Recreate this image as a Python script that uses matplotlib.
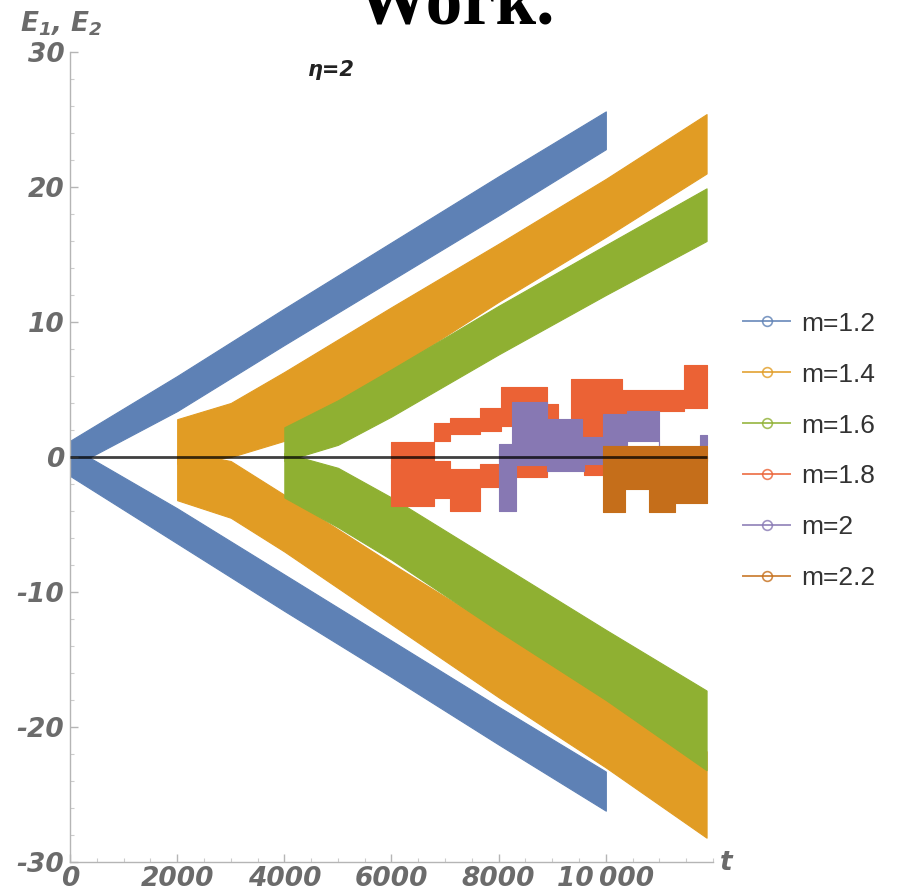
import matplotlib
matplotlib.use("Agg")
import matplotlib.pyplot as plt
from matplotlib.lines import Line2D
from matplotlib.ticker import MultipleLocator

plt.rcParams["mathtext.fontset"] = "custom"
plt.rcParams["mathtext.it"] = "DejaVu Sans:bold:italic"
plt.rcParams["mathtext.rm"] = "DejaVu Sans:bold:italic"
plt.rcParams["mathtext.bf"] = "DejaVu Sans:bold:italic"

# ---------------- data ----------------
labels = ["m=1.2", "m=1.4", "m=1.6", "m=1.8", "m=2", "m=2.2"]
colors = ["#5E81B5", "#E19C24", "#8FB032", "#EB6235", "#8778B3", "#C56E1A"]

# linear-looking bands: edges at sample times (E1 = upper branch, E2 = lower branch)
blue_t = [0, 2000, 4000, 6000, 8000, 10000]
blue_e1_lo = [-0.8, 3.4, 8.3, 13.1, 17.9, 22.8]
blue_e1_hi = [1.2, 6.0, 11.0, 15.9, 20.8, 25.6]
blue_e2_hi = [0.8, -3.8, -8.7, -13.6, -18.5, -23.3]
blue_e2_lo = [-1.4, -6.4, -11.4, -16.3, -21.3, -26.2]

orange_t = [2000, 3000, 4000, 6000, 8000, 10000, 11880]
orange_e1_lo = [-0.5, 0.0, 1.2, 6.4, 11.5, 16.3, 21.0]
orange_e1_hi = [2.8, 4.0, 6.3, 11.1, 15.8, 20.6, 25.4]
orange_e2_hi = [0.5, -0.3, -2.8, -7.9, -12.8, -17.4, -21.8]
orange_e2_lo = [-3.2, -4.5, -7.0, -12.4, -17.8, -23.0, -28.2]

green_t = [4000, 5000, 6000, 8000, 10000, 11880]
green_e1_lo = [-0.3, 0.9, 3.0, 7.6, 12.0, 16.0]
green_e1_hi = [2.2, 4.2, 6.5, 11.2, 15.7, 19.9]
green_e2_hi = [0.3, -0.8, -3.0, -7.9, -12.8, -17.3]
green_e2_lo = [-3.0, -5.2, -7.6, -12.9, -18.0, -23.2]

# irregular step bands (post steps)
red_e1_t = [6000, 6800, 7100, 7650, 8050, 8900, 9100, 9350, 10300, 10850, 11450, 11880]
red_e1_lo = [-0.9, 1.2, 1.7, 1.9, 2.3, 1.5, 0.8, 0.8, 2.5, 3.4, 3.6]
red_e1_hi = [1.1, 2.5, 2.9, 3.6, 5.2, 3.9, 2.5, 5.8, 5.0, 5.0, 6.8]
red_e2_t = [6000, 6800, 7100, 7650, 8050, 8900, 9600, 10000]
red_e2_lo = [-3.6, -3.0, -4.0, -2.2, -1.5, -0.8, -1.3]
red_e2_hi = [-0.5, -0.3, -0.9, -0.5, 0.3, 1.5, 0.7]

purple_e1_t = [8000, 8250, 8900, 9550, 9950, 10400, 11000, 11750, 11880]
purple_e1_lo = [-0.3, 0.0, 0.4, 0.3, 0.9, 1.2, 0.0, 0.9]
purple_e1_hi = [1.0, 4.1, 2.8, 1.5, 3.2, 3.4, 0.6, 1.6]
purple_e2_t = [8000, 8330, 8900, 9600, 9950]
purple_e2_lo = [-4.0, -0.6, -1.0, -0.5]
purple_e2_hi = [0.5, 0.3, 0.6, 0.4]

brown_e1_t = [9950, 11880]
brown_e1_lo = [-0.3]
brown_e1_hi = [0.8]
brown_e2_t = [9950, 10350, 10800, 11300, 11880]
brown_e2_lo = [-4.1, -2.4, -4.1, -3.4]
brown_e2_hi = [0.0, 0.0, 0.0, 0.0]

t_end = 11880
x_ticks = [0, 2000, 4000, 6000, 8000, 10000]
x_ticklabels = ["0", "2000", "4000", "6000", "8000", "10\u2009000"]
y_ticks = [-30, -20, -10, 0, 10, 20, 30]
y_ticklabels = ["-30", "-20", "-10", "0", "10", "20", "30"]

# ---------------- figure ----------------
W, H = 915, 894
fig = plt.figure(figsize=(W / 100, H / 100), dpi=100)
ax = fig.add_axes([70 / W, 1 - 862 / H, (713 - 70) / W, (862 - 52) / H])
ax.set_xlim(0, 12000)
ax.set_ylim(-30, 30)


def lin_band(t, lo, hi, c):
    ax.fill_between(t, lo, hi, color=c, linewidth=0.8, edgecolor=c)


def step_band(t, lo, hi, c):
    ax.fill_between(t, lo + [lo[-1]], hi + [hi[-1]], step="post", color=c,
                    linewidth=0.8, edgecolor=c)


lin_band(blue_t, blue_e1_lo, blue_e1_hi, colors[0])
lin_band(blue_t, blue_e2_lo, blue_e2_hi, colors[0])
lin_band(orange_t, orange_e1_lo, orange_e1_hi, colors[1])
lin_band(orange_t, orange_e2_lo, orange_e2_hi, colors[1])
lin_band(green_t, green_e1_lo, green_e1_hi, colors[2])
lin_band(green_t, green_e2_lo, green_e2_hi, colors[2])
step_band(red_e1_t, red_e1_lo, red_e1_hi, colors[3])
step_band(red_e2_t, red_e2_lo, red_e2_hi, colors[3])
step_band(purple_e1_t, purple_e1_lo, purple_e1_hi, colors[4])
step_band(purple_e2_t, purple_e2_lo, purple_e2_hi, colors[4])
step_band(brown_e1_t, brown_e1_lo, brown_e1_hi, colors[5])
step_band(brown_e2_t, brown_e2_lo, brown_e2_hi, colors[5])

ax.hlines(0, 0, t_end, color="black", alpha=0.75, linewidth=2, zorder=5)

# axes styling (Mathematica-like)
for s in ["top", "right"]:
    ax.spines[s].set_visible(False)
for s in ["left", "bottom"]:
    ax.spines[s].set_color("#b5b5b5")
    ax.spines[s].set_linewidth(1.0)

tick_font = dict(fontsize=19, fontweight="bold", fontstyle="italic", color="#6b6b6b",
                 family="DejaVu Sans")
ax.set_xticks(x_ticks)
ax.set_xticklabels(x_ticklabels, **tick_font)
ax.set_yticks(y_ticks)
ax.set_yticklabels(y_ticklabels, **tick_font)
ax.xaxis.set_minor_locator(MultipleLocator(500))
ax.yaxis.set_minor_locator(MultipleLocator(2))
ax.tick_params(axis="both", which="major", direction="in", length=6, width=1,
               color="#b5b5b5", pad=3)
ax.tick_params(axis="both", which="minor", direction="in", length=3, width=0.8,
               color="#cccccc")
ax.tick_params(axis="y", which="major", pad=4)
ax.set_facecolor("white")

fig.text(20 / W, 1 - 31 / H, r"$E_1$, $E_2$", fontsize=19, fontweight="bold",
         fontstyle="italic", color="#6b6b6b", va="baseline", ha="left")
fig.text(720 / W, 1 - 870 / H, "t", fontsize=19, fontweight="bold",
         fontstyle="italic", color="#6b6b6b", va="baseline", ha="left")

ax.text(4870, 28.7, "\u03b7=2", fontsize=15, fontweight="bold", fontstyle="italic",
        color="#222222", ha="center", va="center")

fig.text(455 / W, 1 - 24 / H, "Work.", family="Liberation Serif", fontweight="bold",
         fontsize=53, color="black", ha="center", va="baseline")

handles = [Line2D([], [], color=c, alpha=0.8, linewidth=1.4, marker="o", markersize=7,
                  markerfacecolor="none", markeredgewidth=1.2) for c in colors]
fig.legend(handles, labels, loc="center left", bbox_to_anchor=(719 / W, 1 - 451 / H),
           frameon=False, prop=dict(family="Liberation Sans", size=19),
           labelcolor="#333333", handlelength=1.8, handletextpad=0.4, labelspacing=1.02)

fig.savefig("out.png", dpi=100)
